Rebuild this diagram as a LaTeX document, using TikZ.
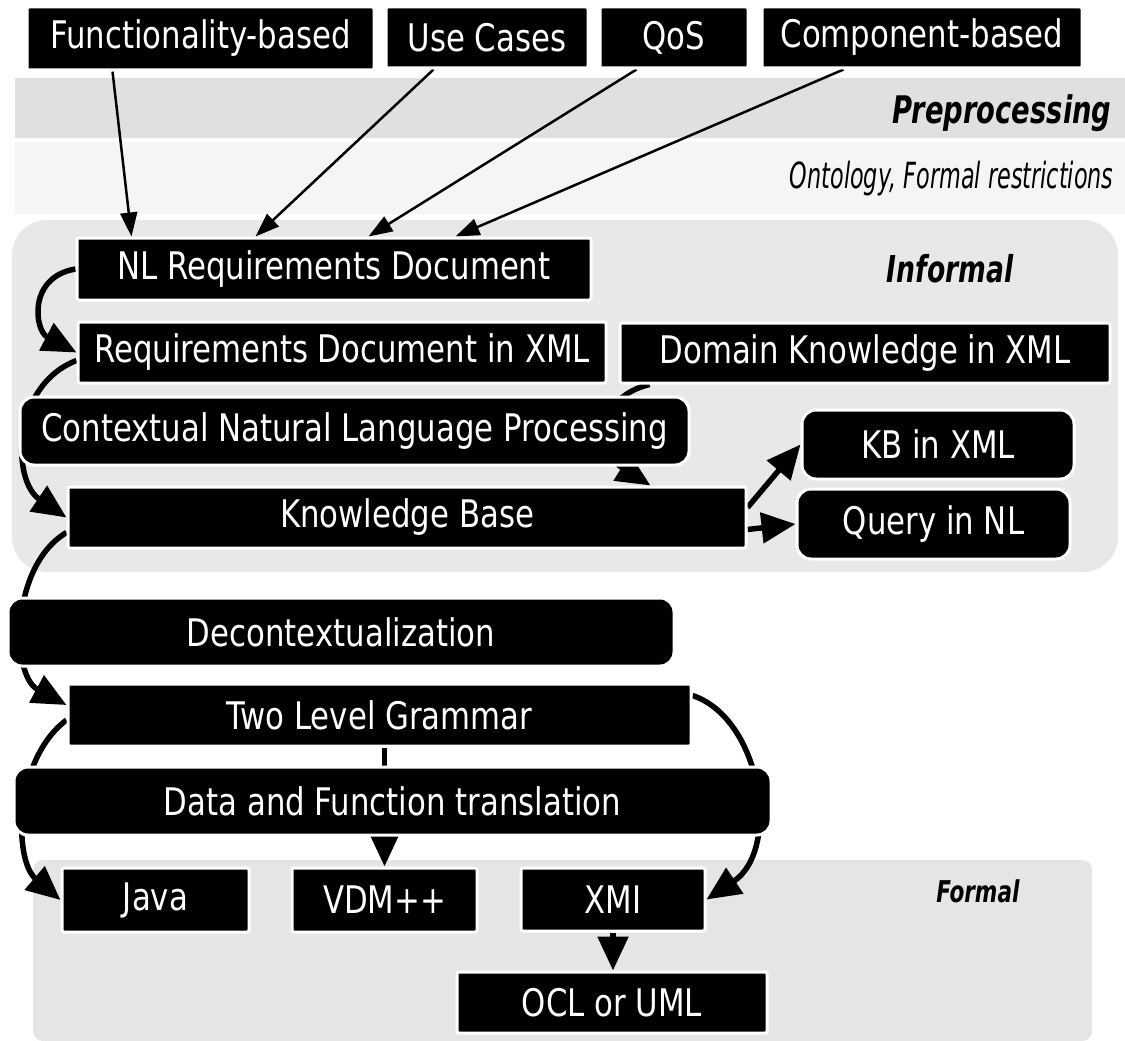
\documentclass[tikz,border=0pt]{standalone}
\usepackage{fontspec}
\setmainfont[FakeStretch=0.81]{DejaVu Sans}
\newfontfamily\lblfont[FakeStretch=0.72]{DejaVu Sans}
\newfontfamily\lblfontr[FakeStretch=0.62]{DejaVu Sans}
\usetikzlibrary{arrows.meta,calc}
\pgfdeclarelayer{bg}
\pgfdeclarelayer{edges}
\pgfsetlayers{bg,edges,main}
\tikzset{
  box/.style={fill=black, draw=white, line width=3pt, text=white, inner sep=0pt,
    rounded corners=2pt, font=\fontsize{38}{44}\selectfont},
  rbox/.style={box, rounded corners=14pt},
  thinarrow/.style={line width=2.5pt, -{Triangle[length=24pt,width=17pt]}},
  thickarrow/.style={line width=5.5pt, -{Triangle[length=34pt,width=30pt]}},
  lbl/.style={anchor=base east, text=black},
}
\begin{document}
\begin{tikzpicture}[x=1pt,y=1pt]
\useasboundingbox (0,0) rectangle (1125,-1041);

% background regions
\begin{pgfonlayer}{bg}
  \fill[white] (0,0) rectangle (1125,-1041);
  \fill[black!12] (15,-78) rectangle (1125,-138);
  \fill[black!4] (15,-142) rectangle (1125,-214);
  \fill[black!9, rounded corners=35pt] (12,-220) rectangle (1118,-572);
  \fill[black!10, rounded corners=10pt] (33,-860) rectangle (1092,-1041);
\end{pgfonlayer}

% top sources
\node[box, minimum width=347pt, minimum height=63pt] (fb)  at (200.5,-38.5) {Functionality-based};
\node[box, minimum width=202pt, minimum height=61pt] (uc)  at (487,-37.5)   {Use Cases};
\node[box, minimum width=148pt, minimum height=61pt] (qos) at (674,-37.5)   {QoS};
\node[box, minimum width=320pt, minimum height=61pt] (cb)  at (922,-37.5)   {Component-based};

% labels
\node[lbl, font=\lblfont\bfseries\itshape\fontsize{38}{44}\selectfont] (pre) at (1115,-123) {Preprocessing};
\node[lbl, font=\lblfontr\itshape\fontsize{36}{42}\selectfont] (onto) at (1117,-188) {Ontology, Formal restrictions};
\node[lbl, font=\lblfont\bfseries\itshape\fontsize{37}{42}\selectfont] (inf) at (1017,-282) {Informal};
\node[lbl, font=\lblfont\bfseries\itshape\fontsize{30}{36}\selectfont] (for) at (1023,-902) {Formal};

% informal part
\node[box, minimum width=514pt, minimum height=62pt] (nl)  at (334,-269)   {NL Requirements Document};
\node[box, minimum width=528pt, minimum height=61pt] (rdx) at (342,-352.5) {Requirements Document in XML};
\node[box, minimum width=490pt, minimum height=60pt] (dk)  at (865,-353)   {Domain Knowledge in XML};
\node[rbox, minimum width=669pt, minimum height=68pt] (cnlp) at (354.5,-431) {Contextual Natural Language Processing};
\node[box, minimum width=678pt, minimum height=61pt] (kb)  at (407,-517.5) {Knowledge Base};
\node[rbox, minimum width=272pt, minimum height=69pt] (kbx) at (938,-444.5) {KB in XML};
\node[rbox, minimum width=273pt, minimum height=70pt] (qnl) at (933.5,-524) {Query in NL};

% lower part
\node[rbox, minimum width=666pt, minimum height=68pt] (dec) at (341,-632)   {Decontextualization};
\node[box, minimum width=623pt, minimum height=62pt]  (tlg) at (379.5,-715) {Two Level Grammar};
\node[rbox, minimum width=757pt, minimum height=68pt] (dft) at (392.5,-801) {Data and Function translation};
\node[box, minimum width=187pt, minimum height=64pt]  (java) at (155.5,-900) {Java};
\node[box, minimum width=185pt, minimum height=64pt]  (vdm) at (384.5,-900)  {VDM++};
\node[box, minimum width=184pt, minimum height=63pt]  (xmi) at (613,-899.5)  {XMI};
\node[box, minimum width=310pt, minimum height=61pt]  (ocl) at (612,-1002.5) {OCL or UML};

% connectors
\begin{pgfonlayer}{edges}
  \draw[thinarrow] ($(fb.south west)+(87,0)$)  -- ($(nl.north west)+(56,0)$);
  \draw[thinarrow] ($(uc.south west)+(49,0)$)  -- ($(nl.north west)+(180,0)$);
  \draw[thinarrow] ($(qos.south west)+(38,0)$) -- ($(nl.north west)+(293,0)$);
  \draw[thinarrow] ($(cb.south west)+(83,0)$)  -- ($(nl.north west)+(380,0)$);

  \draw[thickarrow] (nl.west) .. controls +(-48,-8) and +(-42,22) .. (rdx.west);
  \draw[thickarrow] ($(rdx.west)+(0,-8)$) .. controls +(-65,-25) and +(-55,37) .. (kb.west);
  \draw[thickarrow] ($(dk.south west)+(31,0)$) .. controls +(-51,-12) and +(-59,37) .. ($(kb.north east)+(-97,0)$);
  \draw[thickarrow] ($(kb.east)+(0,10)$) -- (kbx.west);
  \draw[thickarrow] ($(kb.east)+(0,-12)$) -- (qnl.west);
  \draw[thickarrow] ($(kb.west)+(0,-15)$) .. controls +(-56,-33) and +(-56,30) .. ($(tlg.west)+(0,10)$);

  \draw[thickarrow] ($(tlg.west)+(0,-5)$) .. controls +(-53,-40) and +(-47,40) .. (java.west);
  \draw[thickarrow] (vdm.north |- tlg.south) -- (vdm.north);
  \draw[thickarrow] ($(tlg.north east)+(0,-13)$) .. controls +(69,-23) and +(75,50) .. (xmi.east);
  \draw[thickarrow] (xmi.south) -- (xmi.south |- ocl.north);
\end{pgfonlayer}
\end{tikzpicture}
\end{document}
